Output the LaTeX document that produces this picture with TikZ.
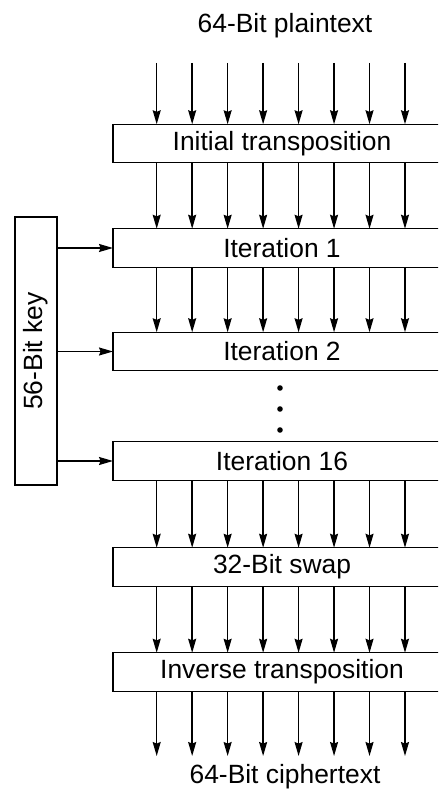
\documentclass[tikz,border=0pt]{standalone}
\usepackage{fontspec}
\setmainfont{Liberation Sans}
\usepackage{tikz}
\usetikzlibrary{arrows.meta, positioning}

\begin{document}
\begin{tikzpicture}[x=0.5pt, y=-0.5pt, line width=0.7pt,
    stage/.style={rectangle, draw, fill=white, minimum width=169pt, minimum height=19.25pt, inner sep=0pt, outer sep=0pt, font=\fontsize{13.2}{15}\selectfont},
    keybox/.style={rectangle, draw, minimum width=21pt, minimum height=134pt, inner sep=0pt, outer sep=0pt, font=\fontsize{13.2}{15}\selectfont},
    label/.style={font=\fontsize{13.2}{15}\selectfont},
    dot/.style={circle, fill, inner sep=0pt, minimum size=2.8pt},
    arrow/.style={-{Stealth[length=7pt, width=4pt, inset=0.8pt]}}
]
    \useasboundingbox (0,0) rectangle (438,790);
    \clip (0,0) rectangle (438,790);
    \fill[white] (0,0) rectangle (438,790);

    % Place nodes
    \node [label] (plain) at (285,26) {64-Bit plaintext};
    \node [stage] (init) at (282,143.5) {Initial transposition};
    \node [stage] (it1) at (282,248) {Iteration 1};
    \node [stage] (it2) at (282,351.5) {Iteration 2};
    \node [dot] (dot1) at (280,388) {};
    \node [dot] (dot2) at (280,409) {};
    \node [dot] (dot3) at (280,430) {};
    \node [stage] (it16) at (282,461) {Iteration 16};
    \node [stage] (swap) at (282,567) {32-Bit swap};
    \node [stage] (inv) at (282,672) {Inverse transposition};
    \node [label] (cipher) at (285,777) {64-Bit ciphertext};
    \node [keybox] (key) at (36,351) {\rotatebox{90}{56-Bit key}};

    % Bit columns
    \foreach \i in {0,...,7} {
        \coordinate (top\i) at (156.7+35.47*\i,63);
        \coordinate (bot\i) at (156.7+35.47*\i,756);
    }

    % Draw edges
    \foreach \i in {0,...,7} {
        \draw [arrow] (top\i) -- (init.north -| top\i);
        \draw [arrow] (init.south -| top\i) -- (it1.north -| top\i);
        \draw [arrow] (it1.south -| top\i) -- (it2.north -| top\i);
        \draw [arrow] (it16.south -| top\i) -- (swap.north -| top\i);
        \draw [arrow] (swap.south -| top\i) -- (inv.north -| top\i);
        \draw [arrow] (inv.south -| top\i) -- (bot\i);
    }
    \draw [arrow] (key.east |- it1.west) -- (it1.west);
    \draw [arrow] (key.east |- it2.west) -- (it2.west);
    \draw [arrow] (key.east |- it16.west) -- (it16.west);
\end{tikzpicture}
\end{document}
